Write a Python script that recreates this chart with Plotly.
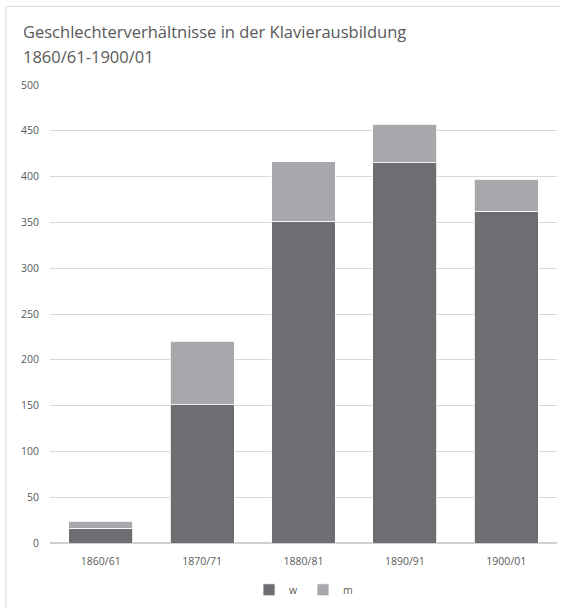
import plotly.graph_objects as go

categories = ["1860/61", "1870/71", "1880/81", "1890/91", "1900/01"]
w_values = [16, 151, 351, 415, 362]
m_values = [8, 69, 65, 42, 35]
y_ticks = [0, 50, 100, 150, 200, 250, 300, 350, 400, 450, 500]
title_lines = ["Geschlechterverhältnisse in der Klavierausbildung", "1860/61-1900/01"]

W, H = 561, 608
ml, mr, mt, mb = 50, 4, 85, 63

fig = go.Figure()
fig.add_trace(go.Bar(name="w", x=categories, y=w_values,
                     marker=dict(color="#6d6e71", line=dict(color="#ffffff", width=0.8))))
fig.add_trace(go.Bar(name="m", x=categories, y=m_values,
                     marker=dict(color="#a7a8ab", line=dict(color="#ffffff", width=0.8))))

pw = W - ml - mr
ph = H - mt - mb


def px_x(x):
    return (x - ml) / pw


def px_y(y):
    return (H - mb - y) / ph


# border lines (top and left)
fig.add_shape(type="line", xref="paper", yref="paper", x0=px_x(6), x1=px_x(W + 5), y0=px_y(6), y1=px_y(6),
              line=dict(color="#d9d9d9", width=1))
fig.add_shape(type="line", xref="paper", yref="paper", x0=px_x(6), x1=px_x(6), y0=px_y(6), y1=px_y(H + 5),
              line=dict(color="#d9d9d9", width=1))

# title as two lines
for text, yc in zip(title_lines, [31, 56]):
    fig.add_annotation(text=text, xref="paper", yref="paper", x=px_x(21), y=px_y(yc),
                       xanchor="left", yanchor="middle", showarrow=False,
                       font=dict(size=16.5, color="#595959"))

fig.update_layout(
    width=W, height=H,
    barmode="stack",
    bargap=0.37,
    plot_bgcolor="white", paper_bgcolor="white",
    margin=dict(l=ml, r=mr, t=mt, b=mb),
    font=dict(family="Open Sans, sans-serif", color="#595959", size=11),
    xaxis=dict(showgrid=False, showline=False, ticks="", tickfont=dict(size=10.5),
               ticklabelstandoff=10),
    yaxis=dict(range=[0, 500], tickvals=y_ticks, showgrid=True, gridcolor="#d9d9d9", gridwidth=1.3,
               zeroline=True, zerolinecolor="#d0d0d0", zerolinewidth=1.5, ticks="",
               tickfont=dict(size=10.5), ticklabelstandoff=10),
    legend=dict(orientation="h", x=0.5, xanchor="center", y=px_y(592), yanchor="middle",
                font=dict(size=10.5), itemwidth=30, traceorder="normal"),
)

fig.write_html("out.html")
